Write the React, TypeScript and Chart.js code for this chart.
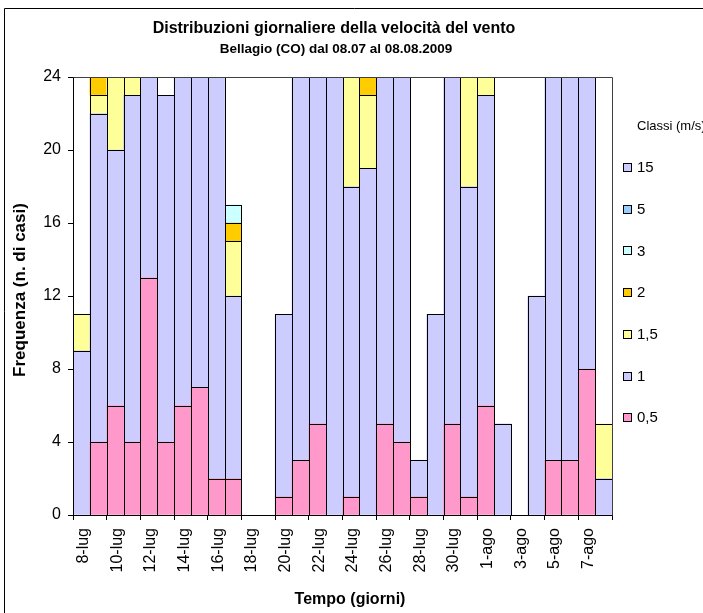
import React, { useEffect, useRef } from "react";
import { Chart, registerables } from "chart.js";

Chart.register(...registerables);

// ---- data ----
const categories = [
  "8-lug", "9-lug", "10-lug", "11-lug", "12-lug", "13-lug", "14-lug", "15-lug",
  "16-lug", "17-lug", "18-lug", "19-lug", "20-lug", "21-lug", "22-lug", "23-lug",
  "24-lug", "25-lug", "26-lug", "27-lug", "28-lug", "29-lug", "30-lug", "31-lug",
  "1-ago", "2-ago", "3-ago", "4-ago", "5-ago", "6-ago", "7-ago", "8-ago",
];

const class05 = [null, 4, 6, 4, 13, 4, 6, 7, 2, 2, null, null, 1, 3, 5, null, 1, null, 5, 4, 1, null, 5, 1, 6, null, null, null, 3, 3, 8, null];
const class1 = [9, 18, 14, 19, 11, 19, 18, 17, 22, 10, null, null, 10, 21, 19, 24, 17, 19, 19, 20, 2, 11, 19, 17, 17, 5, null, 12, 21, 21, 16, 2];
const class15 = [2, 1, 4, 1, null, null, null, null, null, 3, null, null, null, null, null, null, 6, 4, null, null, null, null, null, 6, 1, null, null, null, null, null, null, 3];
const class2 = [null, 1, null, null, null, null, null, null, null, 1, null, null, null, null, null, null, null, 1, null, null, null, null, null, null, null, null, null, null, null, null, null, null];
const class3 = [null, null, null, null, null, null, null, null, null, 1, null, null, null, null, null, null, null, null, null, null, null, null, null, null, null, null, null, null, null, null, null, null];
const class5 = categories.map(() => null);
const class15ms = categories.map(() => null);

const seriesLabels = ["0,5", "1", "1,5", "2", "3", "5", "15"];
const seriesValues = [class05, class1, class15, class2, class3, class5, class15ms];
const seriesColors = ["#FF99CC", "#CCCCFF", "#FFFF99", "#FFCC00", "#CCFFFF", "#99CCFF", "#CCCCFF"];

const yMin = 0;
const yMax = 24;
const yStep = 4;

const titleText = "Distribuzioni giornaliere della velocità del vento";
const subtitleText = "Bellagio (CO) dal 08.07 al 08.08.2009";
const yTitleText = "Frequenza (n. di casi)";
const xTitleText = "Tempo (giorni)";
const legendTitleText = "Classi (m/s)";

const SANS = "'Liberation Sans', Arial, sans-serif";

const decorPlugin = {
  id: "decor",
  afterDatasetsDraw(chart: any) {
    const ctx = chart.ctx;
    ctx.save();
    ctx.strokeStyle = "#000";
    ctx.lineWidth = 1;
    chart.data.datasets.forEach((ds: any, di: number) => {
      const meta = chart.getDatasetMeta(di);
      meta.data.forEach((el: any, i: number) => {
        if (ds.data[i] == null) return;
        const p = el.getProps(["x", "y", "base", "width"], true);
        const l = Math.round(p.x - p.width / 2) + 0.5;
        const r = Math.round(p.x + p.width / 2) + 0.5;
        const t = Math.round(p.y) + 0.5;
        const b = Math.round(p.base) + 0.5;
        ctx.strokeRect(l, t, r - l, b - t);
      });
    });
    ctx.restore();
  },
  afterDraw(chart: any) {
    const ctx = chart.ctx;
    const ca = chart.chartArea;
    ctx.save();
    // plot area frame (top & right)
    ctx.strokeStyle = "#404040";
    ctx.lineWidth = 1;
    ctx.beginPath();
    ctx.moveTo(Math.round(ca.left) + 0.5, Math.round(ca.top) + 0.5);
    ctx.lineTo(Math.round(ca.right) + 0.5, Math.round(ca.top) + 0.5);
    ctx.lineTo(Math.round(ca.right) + 0.5, Math.round(ca.bottom) + 0.5);
    ctx.stroke();
    // outer chart border (left & top visible)
    ctx.strokeStyle = "#000";
    ctx.beginPath();
    ctx.moveTo(4.5, chart.height + 2);
    ctx.lineTo(4.5, 8.5);
    ctx.lineTo(chart.width + 2, 8.5);
    ctx.stroke();

    ctx.fillStyle = "#000";
    // titles
    ctx.textAlign = "center";
    ctx.textBaseline = "alphabetic";
    ctx.font = `bold 16px ${SANS}`;
    ctx.fillText(titleText, 334, 33);
    ctx.font = `bold 13.5px ${SANS}`;
    ctx.fillText(subtitleText, 336, 53);

    // x title
    ctx.textBaseline = "middle";
    ctx.font = `bold 16px ${SANS}`;
    ctx.fillText(xTitleText, 350, 600);

    // y title
    ctx.save();
    ctx.translate(20, 290);
    ctx.rotate(-Math.PI / 2);
    ctx.font = `bold 17px ${SANS}`;
    ctx.fillText(yTitleText, 0, 0);
    ctx.restore();

    // legend
    ctx.textAlign = "left";
    ctx.font = `13px ${SANS}`;
    ctx.fillText(legendTitleText, 637, 126);
    ctx.font = `15px ${SANS}`;
    const n = chart.data.datasets.length;
    for (let k = 0; k < n; k++) {
      const ds = chart.data.datasets[n - 1 - k];
      const cy = 167 + k * 41.7;
      const by = Math.round(cy - 4) + 0.5;
      ctx.fillStyle = ds.backgroundColor;
      ctx.fillRect(623.5, by, 8, 8);
      ctx.strokeStyle = "#000";
      ctx.strokeRect(623.5, by, 8, 8);
      ctx.fillStyle = "#000";
      ctx.fillText(ds.label, 637, cy + 1);
    }
    ctx.restore();
  },
};

export default function App() {
  const ref = useRef<HTMLCanvasElement>(null);
  useEffect(() => {
    document.body.style.margin = "0";
    const canvas = ref.current!;
    const chart = new Chart(canvas, {
      type: "bar",
      data: {
        labels: categories,
        datasets: seriesValues.map((d, i) => ({
          label: seriesLabels[i],
          data: d as any,
          backgroundColor: seriesColors[i],
          borderWidth: 0,
          barPercentage: 1,
          categoryPercentage: 1,
        })),
      },
      options: {
        responsive: false,
        animation: false,
        events: [],
        layout: { padding: { left: 0, top: 77, right: 91, bottom: 0 } },
        plugins: {
          legend: { display: false },
          title: { display: false },
          tooltip: { enabled: false },
        },
        scales: {
          x: {
            stacked: true,
            offset: true,
            grid: {
              display: true,
              offset: true,
              drawOnChartArea: false,
              drawTicks: true,
              tickLength: 5,
              tickWidth: 1,
              tickColor: (c: any) =>
                c.index === undefined || c.index % 2 === 0 ? "#000" : "rgba(0,0,0,0)",
            },
            border: { display: true, color: "#000", width: 1 },
            ticks: {
              autoSkip: false,
              maxRotation: 90,
              minRotation: 90,
              padding: 8,
              labelOffset: 2,
              color: "#000",
              font: { family: SANS, size: 16 },
              callback: (_v: any, i: number) => (i % 2 === 0 ? categories[i] : ""),
            },
            afterFit: (s: any) => {
              s.height = 98;
              s.paddingLeft = 0;
              s.paddingRight = 0;
            },
          },
          y: {
            stacked: true,
            min: yMin,
            max: yMax,
            grid: {
              drawOnChartArea: false,
              drawTicks: true,
              tickLength: 5,
              tickColor: "#000",
            },
            border: { display: true, color: "#000", width: 1 },
            ticks: {
              stepSize: yStep,
              padding: 7,
              color: "#000",
              font: { family: SANS, size: 16 },
            },
            afterFit: (s: any) => {
              s.width = 73;
              s.paddingTop = 0;
              s.paddingBottom = 0;
            },
          },
        },
      } as any,
      plugins: [decorPlugin],
    });
    return () => chart.destroy();
  }, []);
  return <canvas ref={ref} width={703} height={613} style={{ display: "block" }} />;
}
